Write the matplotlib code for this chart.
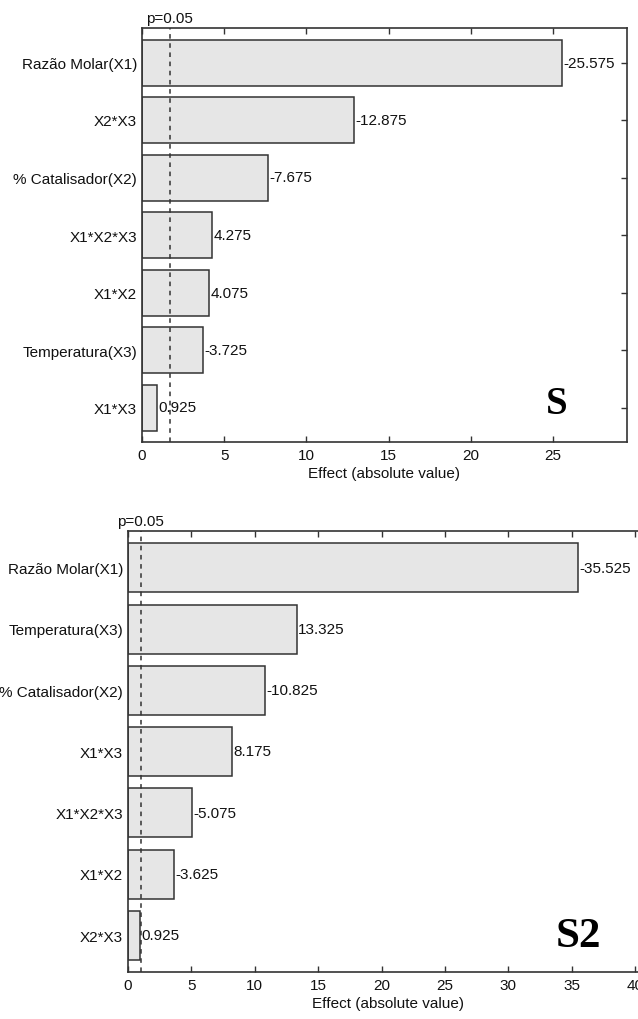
import matplotlib
matplotlib.use("Agg")
import matplotlib.pyplot as plt
import numpy as np

plt.rcParams['font.family'] = ['Liberation Sans', 'DejaVu Sans']

# Pareto chart of standardized effects, response S
labels_s = ["Razão Molar(X1)", "X2*X3", "% Catalisador(X2)", "X1*X2*X3",
            "X1*X2", "Temperatura(X3)", "X1*X3"]
effects_s = [-25.575, -12.875, -7.675, 4.275, 4.075, -3.725, 0.925]
pline_s = 1.7

# Pareto chart of standardized effects, response S2
labels_s2 = ["Razão Molar(X1)", "Temperatura(X3)", "% Catalisador(X2)", "X1*X3",
             "X1*X2*X3", "X1*X2", "X2*X3"]
effects_s2 = [-35.525, 13.325, -10.825, 8.175, -5.075, -3.625, 0.925]
pline_s2 = 1.0

edge = '#333333'


def pareto(ax, labels, effects, pline, xmax, ticks, tag, tag_size, tag_pos):
    n = len(labels)
    ypos = np.arange(n)
    vals = np.abs(effects)
    ax.barh(ypos, vals, height=0.8, color='#e6e6e6', edgecolor=edge, linewidth=1.1)
    for y, v, e in zip(ypos, vals, effects):
        ax.annotate(f"{e:.3f}", xy=(v, y), xytext=(1, 0), textcoords='offset points',
                    ha='left', va='center', fontsize=11, color='#111111')
    ax.axvline(pline, color='#333333', linestyle=(0, (3, 3)), linewidth=1.1)
    ax.annotate("p=0.05", xy=(pline, 1), xycoords=('data', 'axes fraction'),
                xytext=(0, 2), textcoords='offset points',
                ha='center', va='bottom', fontsize=11, color='#111111')
    ax.set_xlim(0, xmax)
    ax.set_ylim(n - 0.4, -0.6)
    ax.set_yticks(ypos)
    ax.set_yticklabels(labels)
    ax.set_xticks(ticks)
    ax.tick_params(direction='in', length=4, width=1, color=edge,
                   labelsize=11, labelcolor='#111111', pad=4,
                   top=True, right=True)
    ax.tick_params(axis='y', left=False, pad=3.5)
    for sp in ax.spines.values():
        sp.set_color(edge)
        sp.set_linewidth(1.2)
    ax.set_xlabel("Effect (absolute value)", fontsize=11, color='#111111', labelpad=3)
    ax.text(tag_pos[0], tag_pos[1], tag, transform=ax.transAxes,
            ha='center', va='center', fontsize=tag_size, fontweight='bold',
            family='Liberation Serif', color='black')


fig = plt.figure(figsize=(6.38, 10.2), dpi=100)

ax1 = fig.add_axes([142 / 638, 1 - 443 / 1020, 485 / 638, 414 / 1020])
pareto(ax1, labels_s, effects_s, pline_s, 29.5, np.arange(0, 30, 5),
       "S", 28, (0.854, 0.092))

ax2 = fig.add_axes([128 / 638, 1 - 973 / 1020, 519.7 / 638, 441 / 1020])
pareto(ax2, labels_s2, effects_s2, pline_s2, 41, np.arange(0, 45, 5),
       "S2", 31, (0.866, 0.082))

fig.savefig("out.png", dpi=100)
